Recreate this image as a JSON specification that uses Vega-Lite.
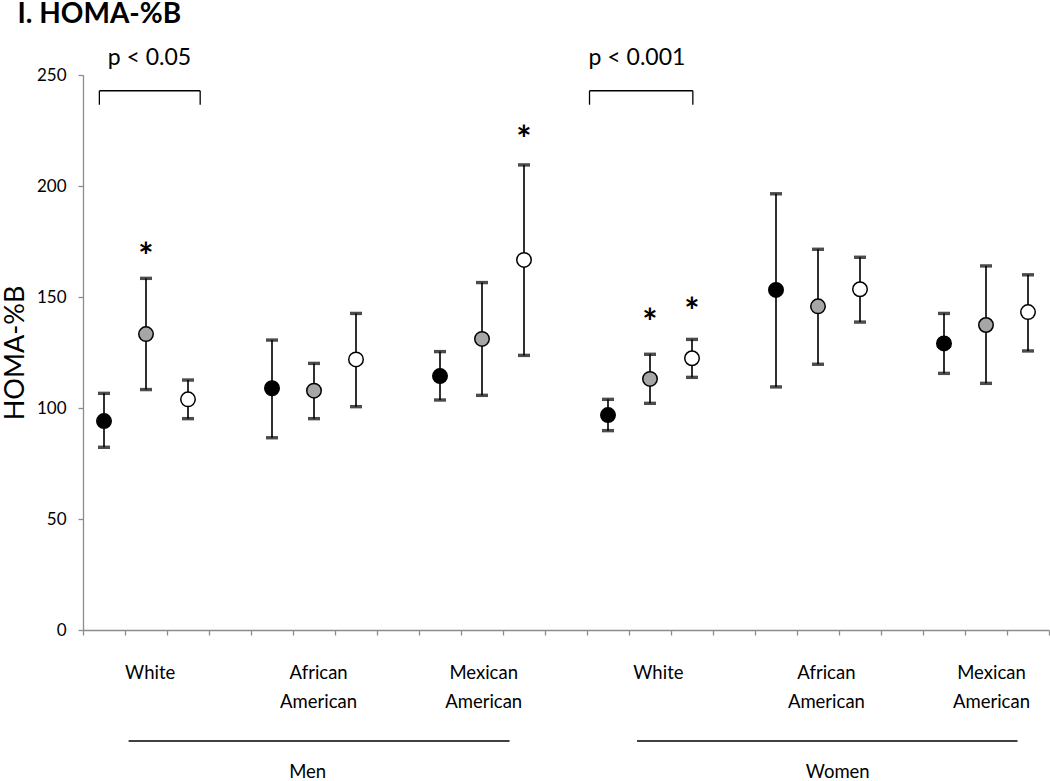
{
  "$schema": "https://vega.github.io/schema/vega-lite/v6.json",
  "width": 966,
  "height": 555,
  "autosize": "none",
  "padding": {"left": 83, "top": 75, "right": 1, "bottom": 151},
  "background": "white",
  "config": {"view": {"stroke": null}, "font": "Lato"},
  "datasets": {
    "pts": [
      {"pos": 0.5, "sex": "Men", "eth": "White", "grp": "G1", "mean": 94.1, "lo": 82.3, "hi": 106.6},
      {"pos": 1.5, "sex": "Men", "eth": "White", "grp": "G2", "mean": 133.3, "lo": 108.3, "hi": 158.4},
      {"pos": 2.5, "sex": "Men", "eth": "White", "grp": "G3", "mean": 103.9, "lo": 95.2, "hi": 112.6},
      {"pos": 4.5, "sex": "Men", "eth": "African American", "grp": "G1", "mean": 108.9, "lo": 86.6, "hi": 130.6},
      {"pos": 5.5, "sex": "Men", "eth": "African American", "grp": "G2", "mean": 107.8, "lo": 95.2, "hi": 120.1},
      {"pos": 6.5, "sex": "Men", "eth": "African American", "grp": "G3", "mean": 121.9, "lo": 100.6, "hi": 142.6},
      {"pos": 8.5, "sex": "Men", "eth": "Mexican American", "grp": "G1", "mean": 114.4, "lo": 103.6, "hi": 125.4},
      {"pos": 9.5, "sex": "Men", "eth": "Mexican American", "grp": "G2", "mean": 131.1, "lo": 105.7, "hi": 156.5},
      {"pos": 10.5, "sex": "Men", "eth": "Mexican American", "grp": "G3", "mean": 166.7, "lo": 123.7, "hi": 209.5},
      {"pos": 12.5, "sex": "Women", "eth": "White", "grp": "G1", "mean": 96.8, "lo": 89.8, "hi": 103.9},
      {"pos": 13.5, "sex": "Women", "eth": "White", "grp": "G2", "mean": 113.1, "lo": 102.1, "hi": 124.2},
      {"pos": 14.5, "sex": "Women", "eth": "White", "grp": "G3", "mean": 122.4, "lo": 113.8, "hi": 130.9},
      {"pos": 16.5, "sex": "Women", "eth": "African American", "grp": "G1", "mean": 153.2, "lo": 109.5, "hi": 196.5},
      {"pos": 17.5, "sex": "Women", "eth": "African American", "grp": "G2", "mean": 145.8, "lo": 119.7, "hi": 171.5},
      {"pos": 18.5, "sex": "Women", "eth": "African American", "grp": "G3", "mean": 153.5, "lo": 138.7, "hi": 167.9},
      {"pos": 20.5, "sex": "Women", "eth": "Mexican American", "grp": "G1", "mean": 129.1, "lo": 115.6, "hi": 142.6},
      {"pos": 21.5, "sex": "Women", "eth": "Mexican American", "grp": "G2", "mean": 137.4, "lo": 111.1, "hi": 164.0},
      {"pos": 22.5, "sex": "Women", "eth": "Mexican American", "grp": "G3", "mean": 143.2, "lo": 125.7, "hi": 160.0}
    ],
    "stars": [
      {"pos": 1.5, "y": 172},
      {"pos": 10.5, "y": 225},
      {"pos": 13.5, "y": 142.3},
      {"pos": 14.5, "y": 147.4}
    ],
    "bracketH": [
      {"x": 0.39, "x2": 2.79, "y": 242.9},
      {"x": 12.06, "x2": 14.52, "y": 242.9}
    ],
    "bracketV": [
      {"x": 0.39, "y": 236.6, "y2": 242.9},
      {"x": 2.79, "y": 236.6, "y2": 242.9},
      {"x": 12.06, "y": 236.6, "y2": 242.9},
      {"x": 14.52, "y": 236.6, "y2": 242.9}
    ],
    "pLabels": [
      {"x": 1.58, "y": 257.7, "text": "p < 0.05"},
      {"x": 13.19, "y": 257.7, "text": "p < 0.001"}
    ],
    "catLabels": [
      {"x": 1.6, "y": -19.4, "text": "White"},
      {"x": 5.61, "y": -19.4, "text": "African"},
      {"x": 5.61, "y": -32.4, "text": "American"},
      {"x": 9.54, "y": -19.4, "text": "Mexican"},
      {"x": 9.54, "y": -32.4, "text": "American"},
      {"x": 13.7, "y": -19.4, "text": "White"},
      {"x": 17.7, "y": -19.4, "text": "African"},
      {"x": 17.7, "y": -32.4, "text": "American"},
      {"x": 21.63, "y": -19.4, "text": "Mexican"},
      {"x": 21.63, "y": -32.4, "text": "American"}
    ],
    "sexLabels": [
      {"x": 5.35, "y": -63.8, "text": "Men"},
      {"x": 17.97, "y": -63.8, "text": "Women"}
    ],
    "sexLines": [
      {"x": 1.086, "x2": 10.157, "y": -50},
      {"x": 13.19, "x2": 22.25, "y": -50}
    ],
    "titleRow": [
      {"x": -1.56, "y": 273.6, "text": "I. HOMA-%B"}
    ]
  },
  "layer": [
    {
      "data": {"name": "pts"},
      "mark": {"type": "rule", "color": "#1a1a1a", "strokeWidth": 1.8},
      "encoding": {
        "x": {"field": "pos", "type": "quantitative", "scale": {"domain": [0, 23], "nice": false, "zero": false},
          "axis": {"values": [0,1,2,3,4,5,6,7,8,9,10,11,12,13,14,15,16,17,18,19,20,21,22,23], "labels": false, "title": null, "grid": false,
            "domainColor": "#8c8c8c", "tickColor": "#8c8c8c", "tickSize": 5, "domainWidth": 1.3, "tickWidth": 1.3}},
        "y": {"field": "lo", "type": "quantitative", "scale": {"domain": [0, 250], "nice": false},
          "axis": {"values": [0, 50, 100, 150, 200, 250], "title": "HOMA-%B", "titleFontSize": 27, "titleFontWeight": "normal", "titleColor": "black",
            "titlePadding": 7, "grid": false, "domainColor": "#8c8c8c", "tickColor": "#8c8c8c", "tickSize": 5, "domainWidth": 1.3, "tickWidth": 1.3,
            "labelFontSize": 17, "labelColor": "black", "labelPadding": 12}},
        "y2": {"field": "hi"}
      }
    },
    {
      "data": {"name": "pts"},
      "mark": {"type": "tick", "orient": "horizontal", "color": "#000", "size": 12, "thickness": 3.4},
      "encoding": {
        "x": {"field": "pos", "type": "quantitative"},
        "y": {"field": "lo", "type": "quantitative"}
      }
    },
    {
      "data": {"name": "pts"},
      "mark": {"type": "tick", "orient": "horizontal", "color": "#000", "size": 12, "thickness": 3.4},
      "encoding": {
        "x": {"field": "pos", "type": "quantitative"},
        "y": {"field": "hi", "type": "quantitative"}
      }
    },
    {
      "data": {"name": "pts"},
      "mark": {"type": "point", "shape": "circle", "filled": true, "size": 210, "stroke": "black", "strokeWidth": 1.5, "opacity": 1},
      "encoding": {
        "x": {"field": "pos", "type": "quantitative"},
        "y": {"field": "mean", "type": "quantitative"},
        "fill": {"field": "grp", "type": "nominal", "scale": {"domain": ["G1", "G2", "G3"], "range": ["#000000", "#a6a6a6", "#ffffff"]}, "legend": null}
      }
    },
    {
      "data": {"name": "stars"},
      "mark": {"type": "text", "text": "*", "fontSize": 36, "fontWeight": "bold", "baseline": "middle", "dy": 10, "color": "black"},
      "encoding": {
        "x": {"field": "pos", "type": "quantitative"},
        "y": {"field": "y", "type": "quantitative"}
      }
    },
    {
      "data": {"name": "bracketH"},
      "mark": {"type": "rule", "color": "black", "strokeWidth": 1.3},
      "encoding": {
        "x": {"field": "x", "type": "quantitative"},
        "x2": {"field": "x2"},
        "y": {"field": "y", "type": "quantitative"}
      }
    },
    {
      "data": {"name": "bracketV"},
      "mark": {"type": "rule", "color": "black", "strokeWidth": 1.3},
      "encoding": {
        "x": {"field": "x", "type": "quantitative"},
        "y": {"field": "y", "type": "quantitative"},
        "y2": {"field": "y2"}
      }
    },
    {
      "data": {"name": "pLabels"},
      "mark": {"type": "text", "fontSize": 23, "baseline": "middle", "align": "center", "color": "black"},
      "encoding": {
        "x": {"field": "x", "type": "quantitative"},
        "y": {"field": "y", "type": "quantitative"},
        "text": {"field": "text"}
      }
    },
    {
      "data": {"name": "catLabels"},
      "mark": {"type": "text", "fontSize": 18.5, "baseline": "middle", "align": "center", "color": "black"},
      "encoding": {
        "x": {"field": "x", "type": "quantitative"},
        "y": {"field": "y", "type": "quantitative"},
        "text": {"field": "text"}
      }
    },
    {
      "data": {"name": "sexLabels"},
      "mark": {"type": "text", "fontSize": 18.5, "baseline": "middle", "align": "center", "color": "black"},
      "encoding": {
        "x": {"field": "x", "type": "quantitative"},
        "y": {"field": "y", "type": "quantitative"},
        "text": {"field": "text"}
      }
    },
    {
      "data": {"name": "sexLines"},
      "mark": {"type": "rule", "color": "black", "strokeWidth": 1.3},
      "encoding": {
        "x": {"field": "x", "type": "quantitative"},
        "x2": {"field": "x2"},
        "y": {"field": "y", "type": "quantitative"}
      }
    },
    {
      "data": {"name": "titleRow"},
      "mark": {"type": "text", "fontSize": 28, "fontWeight": "bold", "baseline": "alphabetic", "align": "left", "color": "black"},
      "encoding": {
        "x": {"field": "x", "type": "quantitative"},
        "y": {"field": "y", "type": "quantitative"},
        "text": {"field": "text"}
      }
    }
  ]
}
